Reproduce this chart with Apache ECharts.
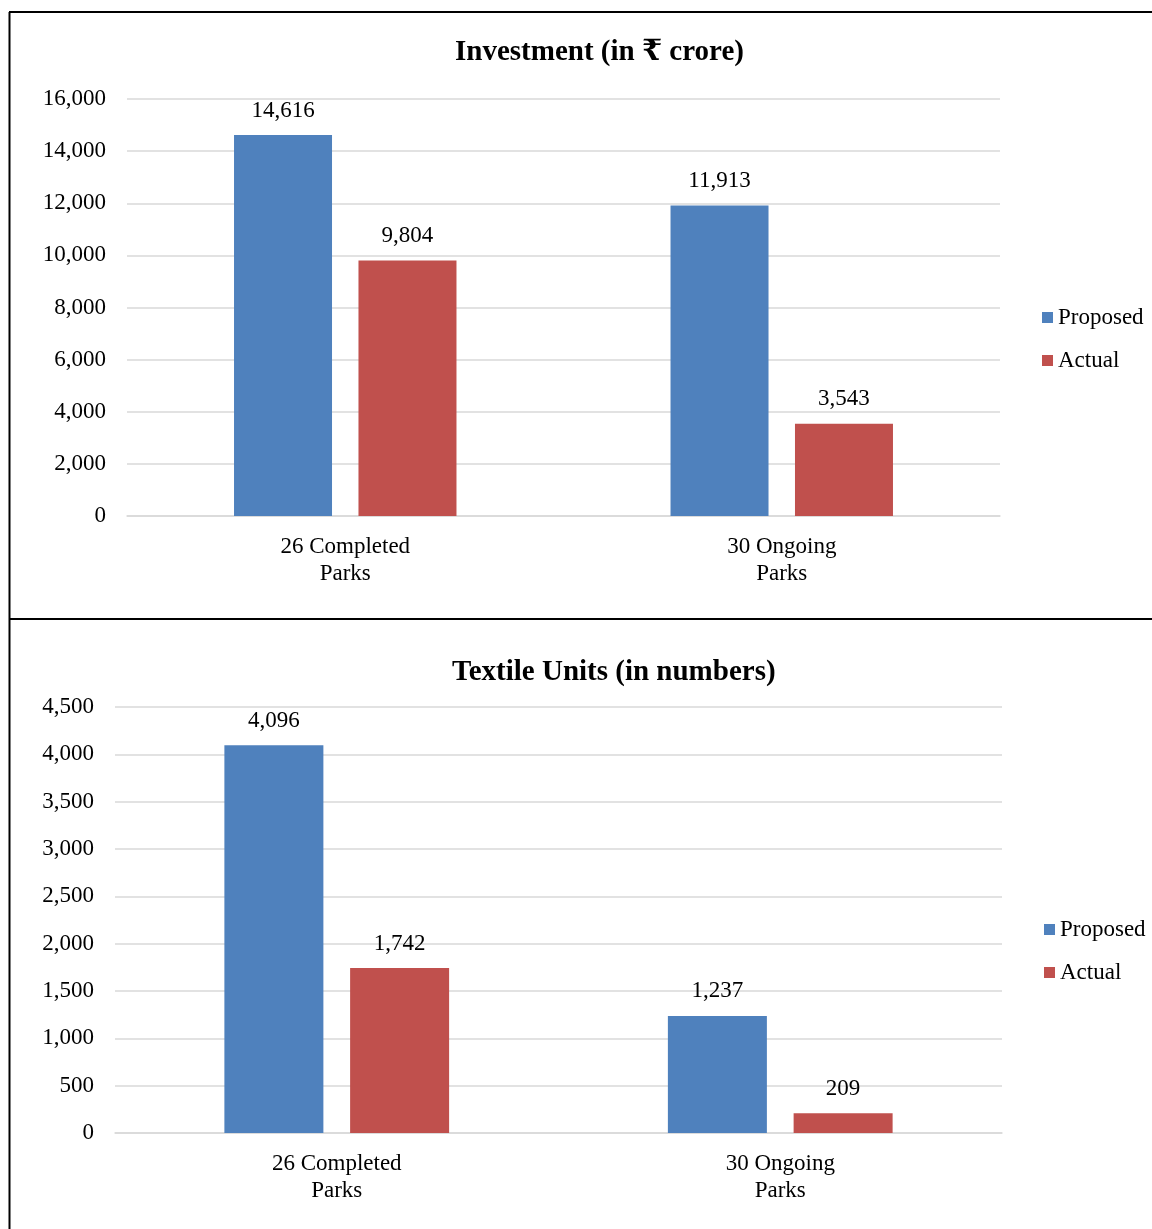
<!DOCTYPE html>
<html>
<head>
<meta charset="utf-8">
<script src="https://cdn.jsdelivr.net/npm/echarts@6/dist/echarts.min.js"></script>
<style>
  html, body { margin: 0; padding: 0; background: #fff; }
  #chart { width: 1152px; height: 1229px; }
</style>
</head>
<body>
<div id="chart"></div>
<script>
// data
const categories = ['26 Completed\nParks', '30 Ongoing\nParks'];
const investProposed = [14616, 11913];
const investActual = [9804, 3543];
const unitsProposed = [4096, 1237];
const unitsActual = [1742, 209];

const FONT = '"Liberation Serif", "Times New Roman", "DejaVu Serif", serif';
const BLUE = '#4F81BD';
const RED = '#C0504D';

const chart = echarts.init(document.getElementById('chart'));

function fmt(v) {
	return v.toLocaleString('en-US');
}

const barLabel = {
	show: true,
	position: 'top',
	distance: 13,
	fontFamily: FONT,
	fontSize: 23,
	color: '#000',
	formatter: p => fmt(p.value)
};

const options = {
	animation: false,
	textStyle: { fontFamily: FONT },
	title: [
		{
			text: 'Investment (in ₹ crore)',
			left: 450, top: 33,
			textStyle: { fontFamily: FONT, fontSize: 29, fontWeight: 'bold', color: '#000' }
		},
		{
			text: 'Textile Units (in numbers)',
			left: 447, top: 653,
			textStyle: { fontFamily: FONT, fontSize: 29, fontWeight: 'bold', color: '#000' }
		}
	],
	legend: [
		{
			orient: 'vertical', left: 1037, top: 301,
			icon: 'rect', itemWidth: 11, itemHeight: 11, itemGap: 20,
			textStyle: { fontFamily: FONT, fontSize: 23, color: '#000' },
			data: ['Proposed', 'Actual']
		},
		{
			orient: 'vertical', left: 1039, top: 913,
			icon: 'rect', itemWidth: 11, itemHeight: 11, itemGap: 20,
			textStyle: { fontFamily: FONT, fontSize: 23, color: '#000' },
			data: ['Proposed ', 'Actual ']
		}
	],
	grid: [
		{ left: 127, right: 152, top: 99, height: 417 },
		{ left: 115, right: 150, top: 707, height: 426 }
	],
	xAxis: [0, 1].map(i => ({
		type: 'category',
		gridIndex: i,
		data: categories,
		axisLine: { lineStyle: { color: '#d9d9d9', width: 1.5 } },
		axisTick: { show: false },
		axisLabel: { fontFamily: FONT, fontSize: 23, color: '#000', lineHeight: 27, margin: 17 }
	})),
	yAxis: [
		{
			type: 'value', gridIndex: 0, min: 0, max: 16000, interval: 2000,
			axisLine: { show: false }, axisTick: { show: false },
			splitLine: { lineStyle: { color: '#d9d9d9', width: 1.5 } },
			axisLabel: { fontFamily: FONT, fontSize: 23, color: '#000', margin: 21, formatter: fmt }
		},
		{
			type: 'value', gridIndex: 1, min: 0, max: 4500, interval: 500,
			axisLine: { show: false }, axisTick: { show: false },
			splitLine: { lineStyle: { color: '#d9d9d9', width: 1.5 } },
			axisLabel: { fontFamily: FONT, fontSize: 23, color: '#000', margin: 21, formatter: fmt }
		}
	],
	series: [
		{
			name: 'Proposed', type: 'bar', xAxisIndex: 0, yAxisIndex: 0,
			barWidth: 98, barGap: '27%', itemStyle: { color: BLUE },
			label: barLabel, data: investProposed
		},
		{
			name: 'Actual', type: 'bar', xAxisIndex: 0, yAxisIndex: 0,
			barWidth: 98, barGap: '27%', itemStyle: { color: RED },
			label: barLabel, data: investActual
		},
		{
			name: 'Proposed ', type: 'bar', xAxisIndex: 1, yAxisIndex: 1,
			barWidth: 99, barGap: '27%', itemStyle: { color: BLUE },
			label: barLabel, data: unitsProposed
		},
		{
			name: 'Actual ', type: 'bar', xAxisIndex: 1, yAxisIndex: 1,
			barWidth: 99, barGap: '27%', itemStyle: { color: RED },
			label: barLabel, data: unitsActual
		}
	],
	// panel borders
	graphic: [
		{ type: 'line', shape: { x1: 9.5, y1: 12, x2: 9.5, y2: 1229 }, style: { stroke: '#000', lineWidth: 2 } },
		{ type: 'line', shape: { x1: 9, y1: 12, x2: 1152, y2: 12 }, style: { stroke: '#000', lineWidth: 2 } },
		{ type: 'line', shape: { x1: 9, y1: 619, x2: 1152, y2: 619 }, style: { stroke: '#000', lineWidth: 2 } }
	]
};

chart.setOption(options);
</script>
</body>
</html>
